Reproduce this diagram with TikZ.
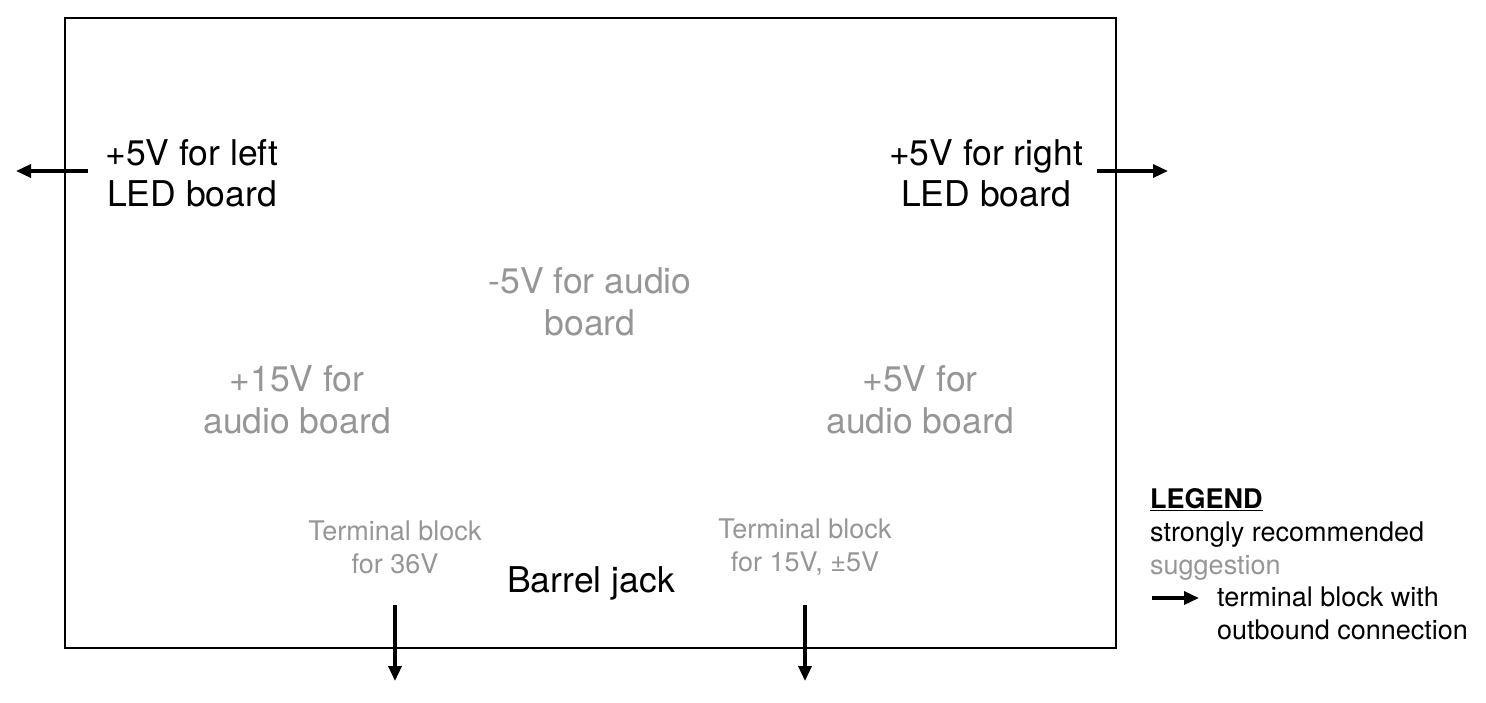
\documentclass[tikz,border=0pt]{standalone}
\usepackage{fontspec}
\setmainfont{TeX Gyre Heros}
\usetikzlibrary{arrows.meta}
\definecolor{sugg}{RGB}{150,150,150}
\begin{document}
\begin{tikzpicture}[x=1pt,y=-1pt,
  big/.style={font=\fontsize{35.5}{41}\selectfont, align=center, inner sep=0pt},
  biggray/.style={font=\fontsize{35.5}{42}\selectfont, align=center, inner sep=0pt, text=sugg},
  small/.style={font=\fontsize{27}{33}\selectfont, inner sep=0pt},
  outarrow/.style={line width=3.3pt, -{Triangle[length=15pt,width=13pt]}}]
\useasboundingbox (0,0) rectangle (1486,702);
\fill[white] (0,0) rectangle (1486,702);
\node[draw, line width=1.2pt, minimum width=1051pt, minimum height=630pt, inner sep=0pt] (board) at (590.5,333) {};

\node[big] (leftled) at (192,173) {+5V for left\\LED board};
\node[big] (rightled) at (986,173) {+5V for right\\LED board};
\node[biggray] (minus5) at (590,302) {-5V for audio\\board};
\node[biggray] (plus15) at (297,400) {+15V for\\audio board};
\node[biggray] (plus5) at (920,400) {+5V for\\audio board};
\node[small, align=center, text=sugg] (tb36) at (395,547) {Terminal block\\for 36V};
\node[small, align=center, text=sugg] (tb15) at (805,547) {Terminal block\\for 15V, ±5V};
\node[big, anchor=base] (barrel) at (591,592) {Barrel jack};

\coordinate (lstart) at (88,171);
\coordinate (lend) at (16,171);
\coordinate (rstart) at (1097,171);
\coordinate (rend) at (1168,171);
\coordinate (b1start) at (395,605);
\coordinate (b1end) at (395,681);
\coordinate (b2start) at (805,605);
\coordinate (b2end) at (805,681);
\draw[outarrow] (lstart) -- (lend);
\draw[outarrow] (rstart) -- (rend);
\draw[outarrow] (b1start) -- (b1end);
\draw[outarrow] (b2start) -- (b2end);

\node[small, align=left, anchor=north west] (legend) at (1150,488)
  {\underline{\textbf{LEGEND}}\\strongly recommended\\\textcolor{sugg}{suggestion}};
\node[small, align=left, anchor=north west] (legtb) at (1217,587)
  {terminal block with\\outbound connection};
\coordinate (legstart) at (1152,598);
\coordinate (legend_end) at (1199,598);
\draw[outarrow] (legstart) -- (legend_end);
\end{tikzpicture}
\end{document}
